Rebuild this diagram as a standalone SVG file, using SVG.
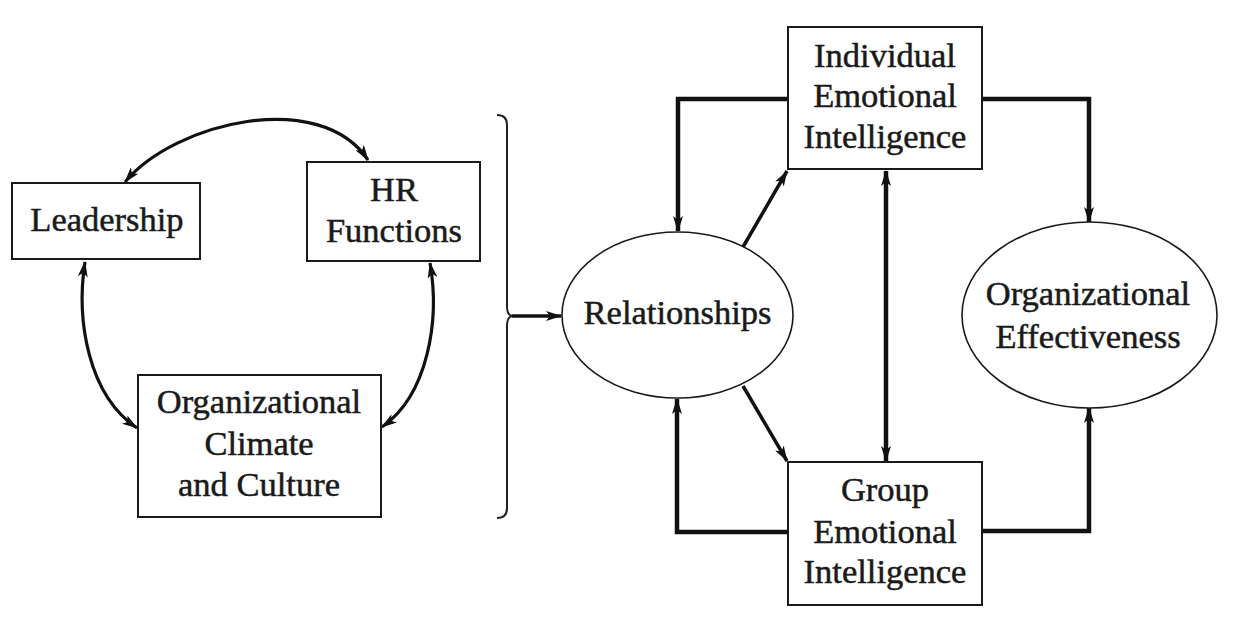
<svg xmlns="http://www.w3.org/2000/svg" width="1233" height="619" viewBox="0 0 1233 619">
<style>
.box{fill:#fff;stroke:#1a1a1a;stroke-width:2}
.ell{fill:#fff;stroke:#1a1a1a;stroke-width:1.6}
.t{font-family:"Liberation Serif","Times New Roman",serif;font-size:34.5px;fill:#1a1a1a;stroke:#1a1a1a;stroke-width:0.5;text-anchor:middle}
.thick{fill:none;stroke:#111;stroke-width:4.5}
.mid{fill:none;stroke:#111;stroke-width:3.5}
.arc{fill:none;stroke:#111;stroke-width:3.2}
.brace{fill:none;stroke:#222;stroke-width:2}
</style>
<defs>
<marker id="ah" markerUnits="userSpaceOnUse" markerWidth="16" markerHeight="10" refX="15" refY="5" orient="auto-start-reverse" viewBox="0 0 16 10">
<path d="M0,0 L16,5 L0,10 L4,5 z" fill="#111"/>
</marker>
</defs>
<rect width="1233" height="619" fill="#fff"/>
<g id="connectors">
<path class="arc" d="M125,182 C175,122 320,88 368,160" marker-start="url(#ah)" marker-end="url(#ah)"/>
<path class="arc" d="M85,262 C76,320 88,395 137,428" marker-start="url(#ah)" marker-end="url(#ah)"/>
<path class="arc" d="M430,263 C440,320 428,395 382,427" marker-start="url(#ah)" marker-end="url(#ah)"/>
<path class="brace" d="M497,115 Q507,115 507,125 L507,306 Q507,316 513,316 Q507,316 507,326 L507,508 Q507,518 497,518"/>
<path class="mid" d="M512,316 H561" marker-end="url(#ah)"/>
<path class="thick" d="M787,99 H678 V231" marker-end="url(#ah)"/>
<path class="mid" d="M743,247 L787,171" marker-end="url(#ah)"/>
<path class="mid" d="M743,386 L787,461" marker-end="url(#ah)"/>
<path class="thick" d="M787,532 H677 V399" marker-end="url(#ah)"/>
<path class="thick" d="M886,171 V461" marker-start="url(#ah)" marker-end="url(#ah)"/>
<path class="thick" d="M982,99 H1089 V222" marker-end="url(#ah)"/>
<path class="thick" d="M982,531 H1089 V408" marker-end="url(#ah)"/>
</g>
<g id="leadership">
<rect class="box" x="12" y="183" width="188" height="76"/>
<text class="t" x="107" y="231">Leadership</text>
</g>
<g id="hr-functions">
<rect class="box" x="307" y="162" width="173" height="99"/>
<text class="t" x="394" y="201">HR</text>
<text class="t" x="394" y="242">Functions</text>
</g>
<g id="org-climate">
<rect class="box" x="138" y="375" width="243" height="142"/>
<text class="t" x="259" y="413">Organizational</text>
<text class="t" x="259" y="455">Climate</text>
<text class="t" x="259" y="496">and Culture</text>
</g>
<g id="relationships">
<ellipse class="ell" cx="677.5" cy="315" rx="115.5" ry="83"/>
<text class="t" x="677.5" y="324">Relationships</text>
</g>
<g id="individual-ei">
<rect class="box" x="788" y="27" width="194" height="142"/>
<text class="t" x="885" y="67">Individual</text>
<text class="t" x="885" y="107">Emotional</text>
<text class="t" x="885" y="148">Intelligence</text>
</g>
<g id="group-ei">
<rect class="box" x="788" y="462" width="194" height="143"/>
<text class="t" x="885" y="501">Group</text>
<text class="t" x="885" y="543">Emotional</text>
<text class="t" x="885" y="583">Intelligence</text>
</g>
<g id="org-effectiveness">
<ellipse class="ell" cx="1089.5" cy="315" rx="127.5" ry="93"/>
<text class="t" x="1088" y="305">Organizational</text>
<text class="t" x="1088" y="348">Effectiveness</text>
</g>
</svg>
